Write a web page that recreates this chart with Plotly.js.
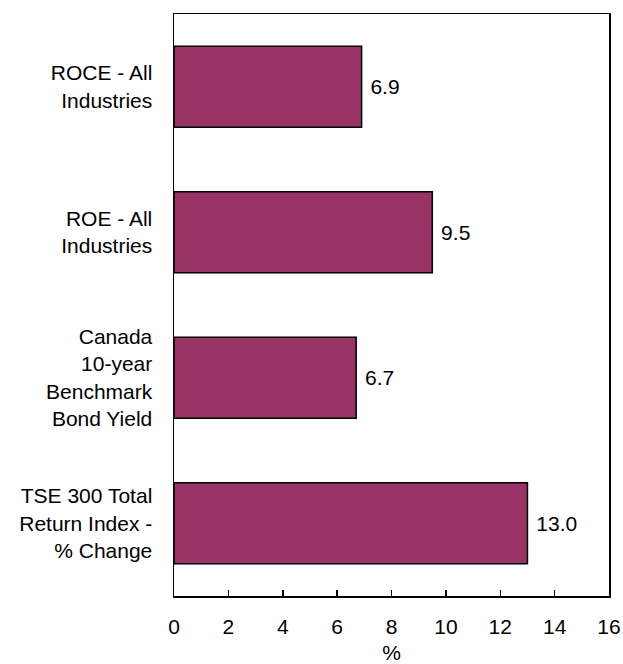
<!DOCTYPE html>
<html>
<head>
<meta charset="utf-8">
<script src="https://cdn.plot.ly/plotly-3.0.1.min.js"></script>
<style>html,body{margin:0;padding:0;background:#fff;}#chart{width:623px;height:664px;}</style>
</head>
<body>
<div id="chart"></div>
<script>
var categories = ["ROCE - All<br>Industries", "ROE - All<br>Industries", "Canada<br>10-year<br>Benchmark<br>Bond Yield", "TSE 300 Total<br>Return Index -<br>% Change"];
var values = [6.9, 9.5, 6.7, 13.0];
var xTicks = [0, 2, 4, 6, 8, 10, 12, 14, 16];

var font = {family: "Liberation Sans, Arial, sans-serif", size: 21, color: "#000"};

var trace = {
  type: "bar",
  orientation: "h",
  x: values,
  y: categories,
  marker: {color: "#993366", line: {color: "#000", width: 1.5}},
  text: values.map(function(v){ return "\u00a0" + v.toFixed(1); }),
  textposition: "outside",
  textfont: font,
  cliponaxis: false,
  hoverinfo: "none"
};

var layout = {
  width: 623, height: 664,
  margin: {l: 174, r: 14, t: 14, b: 68},
  paper_bgcolor: "#fff", plot_bgcolor: "#fff",
  font: font,
  showlegend: false,
  bargap: 0.443,
  xaxis: {
    range: [0, 16], tickvals: xTicks, ticks: "inside", ticklen: 6, tickwidth: 1.5, tickcolor: "#000",
    showgrid: false, zeroline: false, showline: true, linecolor: "#000", linewidth: 1.5, mirror: true,
    tickfont: font, ticklabelstandoff: 11, title: {text: "%", font: font, standoff: 9}
  },
  yaxis: {
    categoryorder: "array", categoryarray: categories, autorange: "reversed",
    ticks: "", showgrid: false, zeroline: false, showline: true, linecolor: "#000", linewidth: 1.5, mirror: true,
    tickfont: font, ticklabelstandoff: 16
  }
};

Plotly.newPlot("chart", [trace], layout, {displayModeBar: false, staticPlot: true});
</script>
</body>
</html>
